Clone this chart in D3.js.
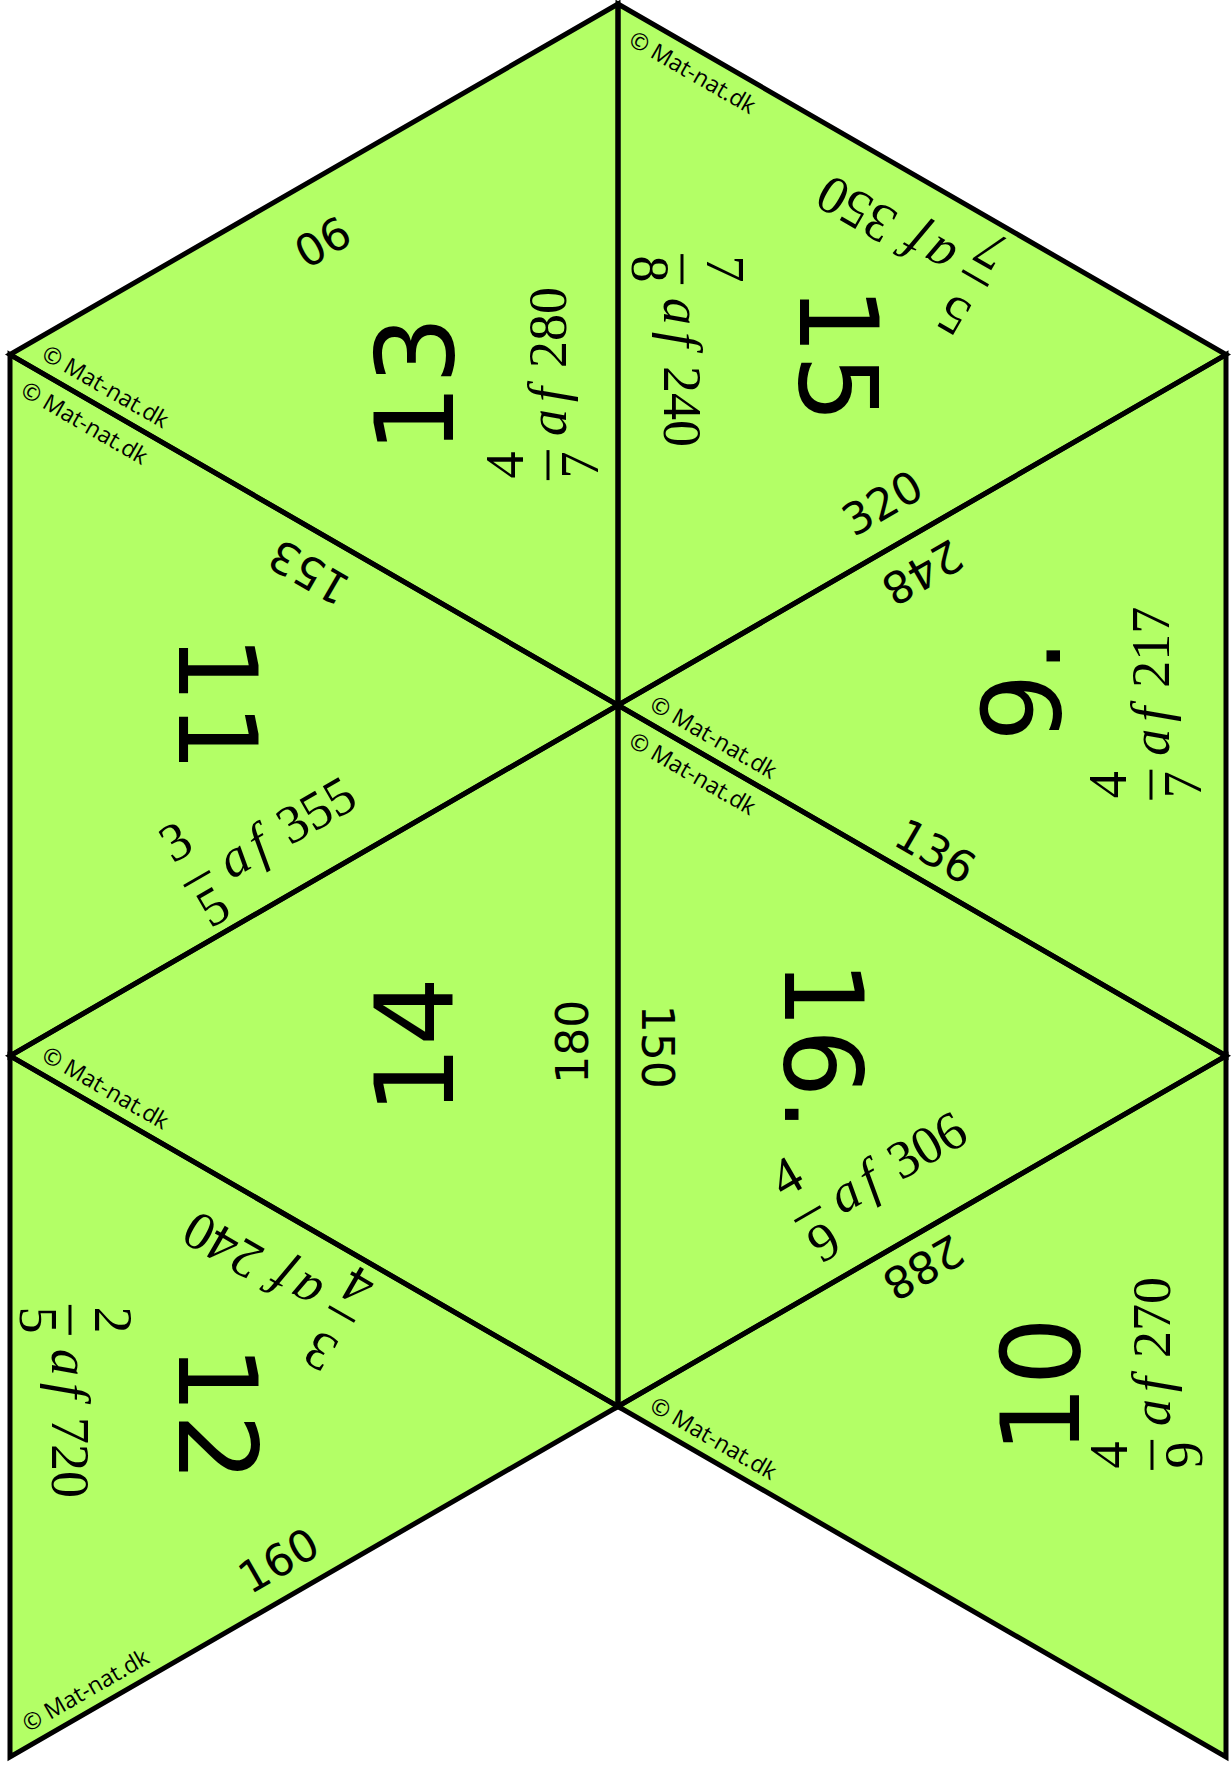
<!DOCTYPE html>
<html>
<head>
<meta charset="utf-8">
<title>Tarsia - brøk af tal</title>
<script src="https://cdn.jsdelivr.net/npm/d3@7"></script>
<style>
  body { margin: 0; background: #fff; }
  svg { display: block; }
  .piece { fill: #b3ff66; stroke: none; }
  .outline { fill: none; stroke: #000; stroke-width: 5; stroke-linejoin: miter; }
  .big { font-family: "DejaVu Sans", sans-serif; font-size: 108px; }
  .edge-num { font-family: "DejaVu Sans", sans-serif; font-size: 44px; }
  .expr { font-family: "Liberation Serif", serif; font-size: 54px; }
  .stamp { font-family: "Open Sans", sans-serif; font-size: 23px; }
</style>
</head>
<body>
<svg id="sheet" width="1232" height="1769"></svg>
<script>
// corners of the sheet on a triangle lattice (column, row), side = 1
const cornerCols = [0, -1, 1, 0, -1, 1, 0, -1, 1];
const cornerRows = [0, 0.5, 0.5, 1, 1.5, 1.5, 2, 2.5, 2.5];

// the eight pieces: their corners, the big number, the corner the number's top points to
const pieceCorners = [[0, 1, 3], [0, 2, 3], [1, 3, 4], [2, 3, 5], [4, 3, 6], [3, 5, 6], [4, 6, 7], [6, 5, 8]];
const pieceNumbers = ['13', '15', '11', '9.', '14', '16.', '12', '10'];
const pieceHeads = [1, 2, 3, 3, 4, 5, 6, 6];

// texts along the edges: piece, edge (two corners), text
const edgePieces = [0, 0, 1, 1, 1, 3, 3, 3, 2, 2, 4, 5, 5, 7, 6, 6, 6, 7];
const edgeEnds = [[0, 1], [0, 3], [0, 3], [0, 2], [3, 2], [3, 2], [2, 5], [3, 5], [1, 3],
                  [3, 4], [3, 6], [3, 6], [6, 5], [6, 5], [4, 6], [4, 7], [7, 6], [5, 8]];
const edgeTexts = ['90', '4/7 af 280', '7/8 af 240', '5/7 af 350', '320', '248', '4/7 af 217', '136', '153',
                   '3/5 af 355', '180', '150', '4/9 af 306', '288', '3/4 af 240', '2/5 af 720', '160', '4/9 af 270'];

// copyright stamps: piece, corner it starts from, corner it runs toward
const stampPieces = [0, 2, 1, 3, 5, 4, 6, 7];
const stampEnds = [[1, 3], [1, 3], [0, 2], [3, 5], [3, 5], [4, 6], [7, 6], [6, 8]];
const stampText = '© Mat-nat.dk';

// placement: [along the reading direction, in from the edge]
const edgeNudge = [[24, 58], [-29, 70], [-4, 64], [-14, 59], [-21, 43], [21, 37], [2, 75], [-3, 32], [-17, 39],
                   [-19, 60], [14, 46], [-9, 39], [-9, 72], [17, 32], [16, 58], [-5, 60], [-20, 36], [33, 74]];
const bigNudge = [[0, 30], [17, 0], [4, -2], [-1, -15], [0, -10], [2, -10], [4, 7], [18, -21]];

const svg = d3.select('#sheet');
const x = d3.scaleLinear().domain([-1, 1]).range([10, 1226]);
const y = d3.scaleLinear().domain([0, 2.5]).range([4, 1757]);
const pt = i => [x(cornerCols[i]), y(cornerRows[i])];
const line = d3.line();
const deg = r => r * 180 / Math.PI;

// pieces: fill first, outlines on top
svg.append('g').selectAll('path').data(pieceCorners).join('path')
    .attr('class', 'piece')
    .attr('d', c => line(c.map(pt)) + 'Z');
svg.append('g').selectAll('path').data(pieceCorners).join('path')
    .attr('class', 'outline')
    .attr('d', c => line(c.map(pt)) + 'Z');

// edge of a piece: midpoint, unit direction a->b, unit normal into the piece
function frame(piece, a, b) {
    const A = pt(a), B = pt(b);
    const P = pt(pieceCorners[piece].find(c => c !== a && c !== b));
    const len = Math.hypot(B[0] - A[0], B[1] - A[1]);
    const e = [(B[0] - A[0]) / len, (B[1] - A[1]) / len];
    const M = [(A[0] + B[0]) / 2, (A[1] + B[1]) / 2];
    let n = [-e[1], e[0]];
    if ((P[0] - M[0]) * n[0] + (P[1] - M[1]) * n[1] < 0) n = [-n[0], -n[1]];
    return {A, M, e, n};
}

function drawExpression(g, txt) {
    const parts = txt.split(' ');
    const [num, den] = parts[0].split('/');
    const barW = 30, gapA = 14, gapB = 12;

    const af = g.append('text').attr('class', 'expr')
        .attr('font-style', 'italic').attr('letter-spacing', 7)
        .attr('y', 18).text(parts[1]);
    const val = g.append('text').attr('class', 'expr').attr('y', 18).text(parts[2]);
    const afW = af.node().getComputedTextLength();
    const valW = val.node().getComputedTextLength();
    const x0 = -(barW + gapA + afW + gapB + valW) / 2;

    g.append('line')
        .attr('x1', x0).attr('x2', x0 + barW)
        .attr('stroke', '#000').attr('stroke-width', 3);
    g.append('text').attr('class', 'expr').attr('text-anchor', 'middle')
        .attr('x', x0 + barW / 2).attr('y', -25).text(num);
    g.append('text').attr('class', 'expr').attr('text-anchor', 'middle')
        .attr('x', x0 + barW / 2).attr('y', 50).text(den);
    af.attr('x', x0 + barW + gapA);
    val.attr('x', x0 + barW + gapA + afW + gapB);
}

// texts along edges, the top of the letters facing into the piece
const labels = svg.append('g');
edgeTexts.forEach((txt, i) => {
    const f = frame(edgePieces[i], edgeEnds[i][0], edgeEnds[i][1]);
    const r = [-f.n[1], f.n[0]];
    const [s, d] = edgeNudge[i];
    const cx = f.M[0] + r[0] * s + f.n[0] * d;
    const cy = f.M[1] + r[1] * s + f.n[1] * d;
    const ang = deg(Math.atan2(f.n[0], -f.n[1]));
    const g = labels.append('g').attr('transform', `translate(${cx},${cy}) rotate(${ang})`);
    if (txt.includes('/')) {
        drawExpression(g, txt);
    } else {
        g.append('text').attr('class', 'edge-num')
            .attr('text-anchor', 'middle').attr('dominant-baseline', 'central')
            .text(txt);
    }
});

// big numbers in the middle of each piece
svg.append('g').selectAll('text').data(pieceCorners).join('text')
    .attr('class', 'big')
    .attr('text-anchor', 'middle').attr('dominant-baseline', 'central')
    .attr('transform', (c, i) => {
        const cx = d3.mean(c, k => pt(k)[0]), cy = d3.mean(c, k => pt(k)[1]);
        const h = pt(pieceHeads[i]);
        const ang = deg(Math.atan2(h[0] - cx, -(h[1] - cy)));
        return `translate(${cx + bigNudge[i][0]},${cy + bigNudge[i][1]}) rotate(${ang})`;
    })
    .text((c, i) => pieceNumbers[i]);

// copyright stamps near a corner
svg.append('g').selectAll('text').data(stampPieces).join('text')
    .attr('class', 'stamp')
    .attr('dominant-baseline', 'central')
    .attr('transform', (p, i) => {
        const f = frame(p, stampEnds[i][0], stampEnds[i][1]);
        const sx = f.A[0] + f.e[0] * 28 + f.n[0] * 21;
        const sy = f.A[1] + f.e[1] * 28 + f.n[1] * 21;
        return `translate(${sx},${sy}) rotate(${deg(Math.atan2(f.e[1], f.e[0]))})`;
    })
    .text(stampText);
</script>
</body>
</html>
